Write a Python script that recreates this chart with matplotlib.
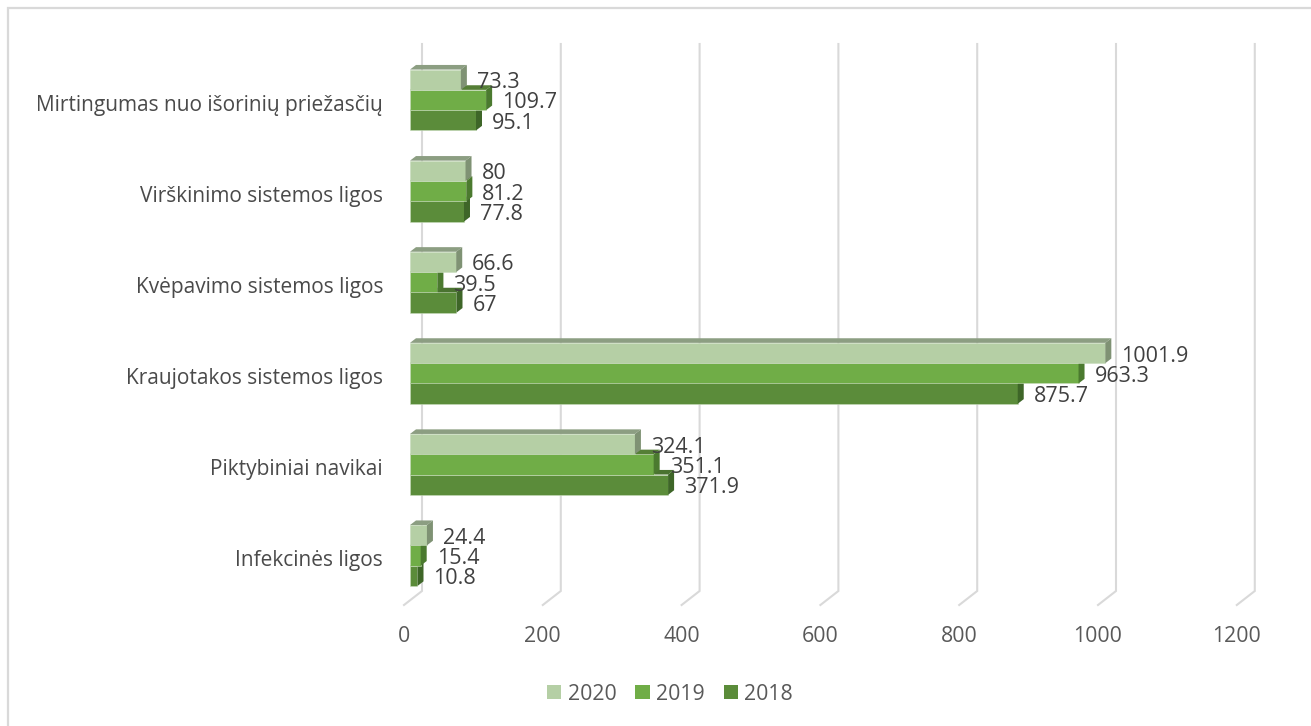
import matplotlib.pyplot as plt
from matplotlib.patches import Polygon, Patch, Rectangle

plt.rcParams['font.family'] = ['Open Sans', 'DejaVu Sans']

categories = ['Infekcinės ligos', 'Piktybiniai navikai', 'Kraujotakos sistemos ligos',
              'Kvėpavimo sistemos ligos', 'Virškinimo sistemos ligos',
              'Mirtingumas nuo išorinių priežasčių']
v2020 = [24.4, 324.1, 1001.9, 66.6, 80, 73.3]
v2019 = [15.4, 351.1, 963.3, 39.5, 81.2, 109.7]
v2018 = [10.8, 371.9, 875.7, 67, 77.8, 95.1]
xticks = [0, 200, 400, 600, 800, 1000, 1200]

# front, top, side colours per series (bottom of the group first)
series = [
    ('2018', v2018, '#5b8c3a', '#4a7330', '#3e6628'),
    ('2019', v2019, '#70ad47', '#557f36', '#4b7a2f'),
    ('2020', v2020, '#b5cfa5', '#8c9e82', '#7f9274'),
]

W, H = 1311, 726
SX = 0.694          # px per unit along x
SY = 91.1           # px per category
X0, Y0 = 410, 555.5 # pixel of value 0 / centre of first category


def px_x(p):
    return p / SX


def px_y(p):
    return p / SY


def yd(py):
    return (Y0 - py) / SY


fig = plt.figure(figsize=(W / 100, H / 100), dpi=100)
ax = fig.add_axes([0, 0, 1, 1])
ax.set_xlim(-X0 / SX, (W - X0) / SX)
ax.set_ylim(yd(H), yd(0))
ax.axis('off')

# outer chart border
ax.add_patch(Rectangle((-(X0 - 8) / SX, yd(H + 20)), (W + 20) / SX, yd(8) - yd(H + 20),
                       fill=False, edgecolor='#d9d9d9', lw=1.6))

# back wall gridlines and floor lines
for t in xticks:
    bx = t + px_x(12)
    ax.plot([bx, bx, bx - px_x(18)], [yd(44), yd(591), yd(605)],
            color='#d9d9d9', lw=1.5, solid_joinstyle='miter', zorder=1)
    ax.text(bx - px_x(18), yd(637), str(t), ha='center', va='center',
            fontsize=15.3, color='#595959')

bh = px_y(20.3)
dx, dy = px_x(6), px_y(4.6)

for i, cat in enumerate(categories):
    for k, (name, vals, cf, ct, cs) in enumerate(series):
        v = vals[i]
        yc = i + (k - 1) * bh
        yb, yt = yc - bh / 2, yc + bh / 2
        z = 2 + k
        ax.barh(yc, v, height=bh, left=0, color=cf, edgecolor='#c8dcbc', lw=0.4, zorder=z)
        ax.add_patch(Polygon([(0, yt), (v, yt), (v + dx, yt + dy), (dx, yt + dy)],
                             closed=True, facecolor=ct, edgecolor='none', zorder=z))
        ax.add_patch(Polygon([(v, yb), (v, yt), (v + dx, yt + dy), (v + dx, yb + dy)],
                             closed=True, facecolor=cs, edgecolor='none', zorder=z))
        ax.text(v + dx + px_x(10), yc - px_y(3), f'{v:g}', ha='left', va='center',
                fontsize=15.5, color='#404040', zorder=10)
    ax.text(px_x(-27), i - px_y(5), cat, ha='right', va='center', fontsize=15,
            color='#4a4a4a')

handles = [Patch(facecolor=cf, edgecolor='none', label=name)
           for name, vals, cf, ct, cs in series[::-1]]
ax.legend(handles=handles, loc='center', bbox_to_anchor=(670 / W, 1 - 694 / H),
          ncol=3, frameon=False, fontsize=15.3, labelcolor='#595959',
          handlelength=0.66, handleheight=0.66, handletextpad=0.3, columnspacing=0.9)

fig.savefig('out.png', dpi=100)
